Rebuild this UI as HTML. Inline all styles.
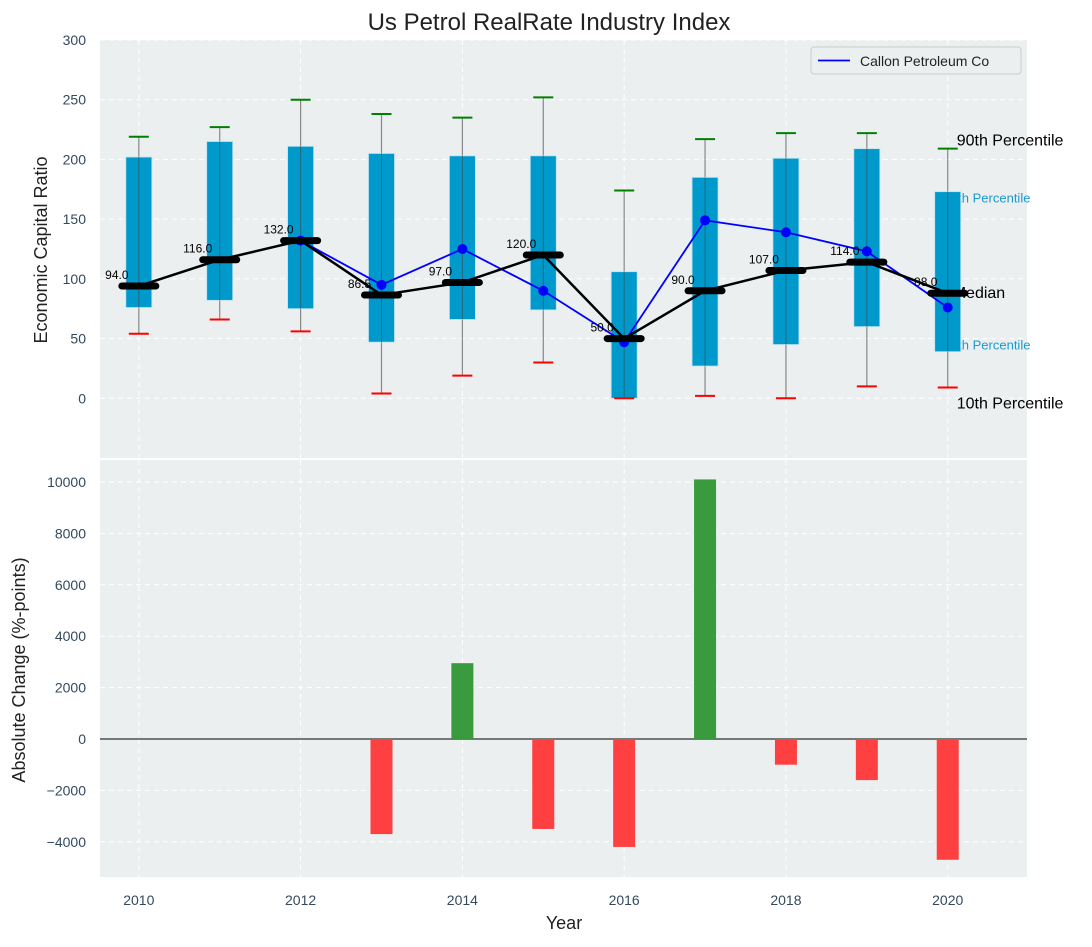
<!DOCTYPE html>
<html><head><meta charset="utf-8"><style>
body{margin:0;background:#fff}
svg text{font-family:"Liberation Sans","DejaVu Sans",sans-serif}
</style></head><body>
<svg id="c" width="1092" height="942" xmlns="http://www.w3.org/2000/svg"></svg>
<script>
const years=[2010,2011,2012,2013,2014,2015,2016,2017,2018,2019,2020];
const p10=[54,66,56,4,19,30,0,2,0,10,9];
const p25=[76,82,75,47,66,74,0,27,45,60,39];
const med=[94,116,132,86.5,97,120,50,90,107,114,88];
const p75=[202,215,211,205,203,203,106,185,201,209,173];
const p90=[219,227,250,238,235,252,174,217,222,222,209];
const callonYears=[2012,2013,2014,2015,2016,2017,2018,2019,2020];
const callon=[132,95,125,90,47,149,139,123,76];
const changeYears=[2013,2014,2015,2016,2017,2018,2019,2020];
const changes=[-3700,2950,-3500,-4200,10100,-1000,-1600,-4700];
const topTicks=[0,50,100,150,200,250,300];
const botTicks=[-4000,-2000,0,2000,4000,6000,8000,10000];
const xTicks=[2010,2012,2014,2016,2018,2020];

const S=document.getElementById('c'),NS='http://www.w3.org/2000/svg';
function el(t,a,txt,p){const e=document.createElementNS(NS,t);for(const k in a)e.setAttribute(k,a[k]);if(txt!=null)e.textContent=txt;(p||S).appendChild(e);return e;}
const L=100,R=1027,T1=40,B1=458,T2=460,B2=877;
const x=v=>L+(v-2009.52)/(2020.98-2009.52)*(R-L);
const y1=v=>T1+(300-v)/(300-(-50))*(B1-T1);
const y2=v=>T2+(10856-v)/(10856-(-5370))*(B2-T2);

let e;
e=el('rect',{x:L,y:T1,width:R-L,height:B1-T1,fill:'#ebeff0'});

e=el('rect',{x:L,y:T2,width:R-L,height:B2-T2,fill:'#ebeff0'});

for(const t of xTicks){
 el('line',{x1:x(t),x2:x(t),y1:T1,y2:B1,stroke:'#fff','stroke-dasharray':'5,4','stroke-width':1});
 el('line',{x1:x(t),x2:x(t),y1:T2,y2:B2,stroke:'#fff','stroke-dasharray':'5,4','stroke-width':1});
 e=el('text',{x:x(t),y:905,'text-anchor':'middle','font-size':14,fill:'#34495e'},t);
 
}
for(const t of topTicks){
 el('line',{x1:L,x2:R,y1:y1(t),y2:y1(t),stroke:'#fff','stroke-dasharray':'5,4'});
 e=el('text',{x:86,y:y1(t)+5,'text-anchor':'end','font-size':14,fill:'#34495e'},t);
 
}
for(const t of botTicks){
 el('line',{x1:L,x2:R,y1:y2(t),y2:y2(t),stroke:'#fff','stroke-dasharray':'5,4'});
 e=el('text',{x:86,y:y2(t)+5,'text-anchor':'end','font-size':14,fill:'#34495e'},t<0?'\u2212'+(-t):t);
 
}
const ax=x(2020);
[['90th Percentile',ax+9,y1(p90[10])-3,16,'#000'],['75th Percentile',ax-4,y1(p75[10])+11,13,'#1a9bd0'],['Median',ax+5,y1(med[10])+5,16,'#000'],['25th Percentile',ax-4,y1(p25[10])-2,13,'#1a9bd0'],['10th Percentile',ax+9,y1(p10[10])+21,16,'#000']].forEach(a=>{
 e=el('text',{x:a[1],y:a[2],'font-size':a[3],fill:a[4]},a[0]);
 
});
years.forEach((yr,i)=>{
 const cx=x(yr);
 e=el('line',{x1:cx,x2:cx,y1:y1(p90[i]),y2:y1(p10[i]),stroke:'#888','stroke-width':1.2});
 
 e=el('rect',{x:cx-13,y:y1(p75[i]),width:26,height:y1(p25[i])-y1(p75[i]),fill:'#0099cc',stroke:'#bfe3f0','stroke-width':0.8});
 
 el('line',{x1:cx,x2:cx,y1:y1(p75[i]),y2:y1(p25[i]),stroke:'#444','stroke-width':1,opacity:0.6});
 e=el('line',{x1:cx-10,x2:cx+10,y1:y1(p90[i]),y2:y1(p90[i]),stroke:'green','stroke-width':2});
 
 e=el('line',{x1:cx-10,x2:cx+10,y1:y1(p10[i]),y2:y1(p10[i]),stroke:'red','stroke-width':2});
 
});
e=el('polyline',{points:callonYears.map((yr,i)=>x(yr)+','+y1(callon[i])).join(' '),fill:'none',stroke:'blue','stroke-width':1.8});

callonYears.forEach((yr,i)=>{e=el('circle',{cx:x(yr),cy:y1(callon[i]),r:5,fill:'blue'});
 });
e=el('polyline',{points:years.map((yr,i)=>x(yr)+','+y1(med[i])).join(' '),fill:'none',stroke:'#000','stroke-width':2.5});

years.forEach((yr,i)=>{
 e=el('line',{x1:x(yr)-17,x2:x(yr)+17,y1:y1(med[i]),y2:y1(med[i]),stroke:'#000','stroke-width':7,'stroke-linecap':'round'});
 
 e=el('text',{x:x(yr)-22,y:y1(med[i])-7,'text-anchor':'middle','font-size':12,fill:'#000'},med[i].toFixed(1));
 
});
e=el('g',{});
el('rect',{x:811,y:47,width:210,height:27,rx:3,fill:'#ebeff0',stroke:'#ccc'},null,e);
el('line',{x1:818,x2:850,y1:60.5,y2:60.5,stroke:'blue','stroke-width':1.8},null,e);
el('text',{x:860,y:66,'font-size':14,fill:'#222'},'Callon Petroleum Co',e);
el('line',{x1:L,x2:R,y1:y2(0),y2:y2(0),stroke:'#000','stroke-width':1});
changeYears.forEach((yr,i)=>{
 const v=changes[i];
 e=el('rect',{x:x(yr)-11,y:y2(Math.max(v,0)),width:22,height:Math.abs(y2(v)-y2(0)),fill:v>=0?'#3a9a3e':'#ff4040'});
 
});
el('rect',{x:L,y:B1,width:R-L,height:2,fill:'#fff'});
e=el('text',{x:549,y:30,'text-anchor':'middle','font-size':24,fill:'#222'},'Us Petrol RealRate Industry Index');

e=el('text',{x:0,y:0,'text-anchor':'middle','font-size':18,fill:'#222',transform:'translate(47,250) rotate(-90)'},'Economic Capital Ratio');

e=el('text',{x:0,y:0,'text-anchor':'middle','font-size':18,fill:'#222',transform:'translate(25,670) rotate(-90)'},'Absolute Change (%-points)');

e=el('text',{x:564,y:929,'text-anchor':'middle','font-size':18,fill:'#222'},'Year');

</script>
</body></html>
